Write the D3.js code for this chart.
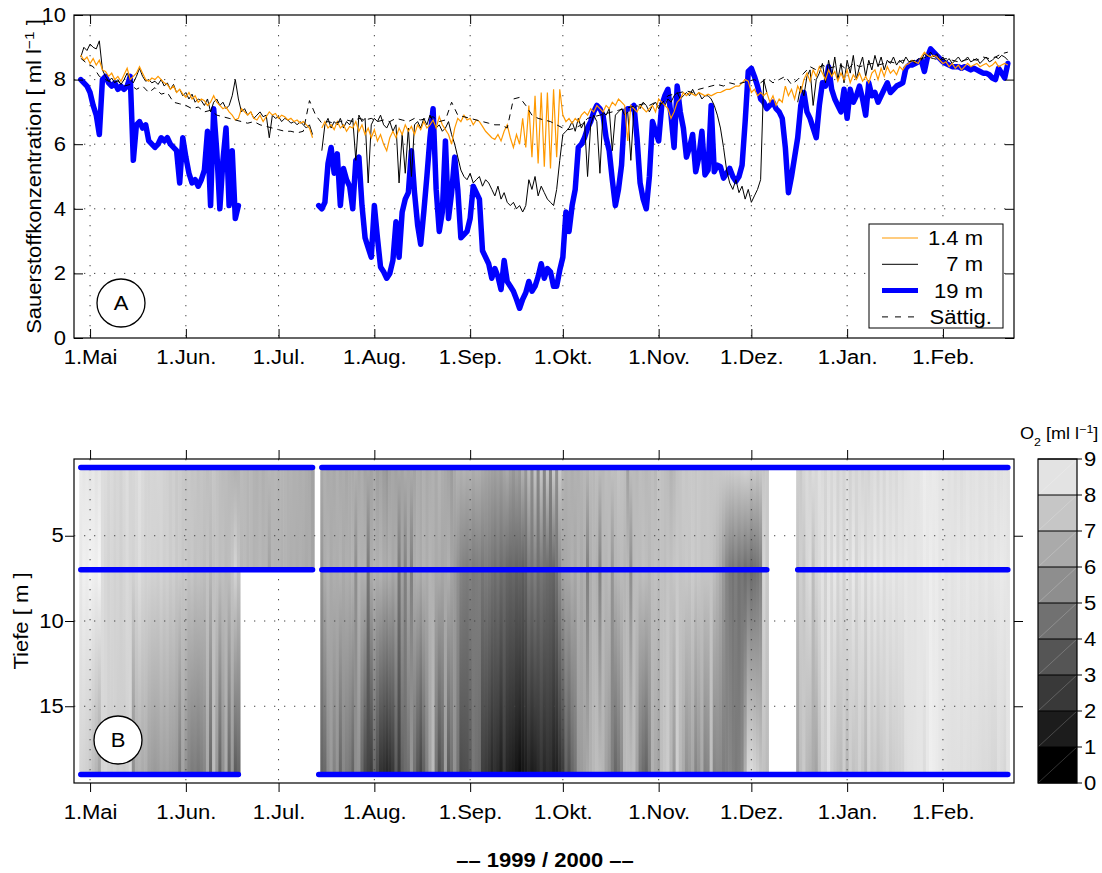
<!DOCTYPE html>
<html>
<head>
<meta charset="utf-8">
<script src="https://cdn.jsdelivr.net/npm/d3@7"></script>
<style>
  body { margin: 0; background: #fff; }
  text { font-family: "Liberation Sans", Arial, Helvetica, sans-serif; fill: #000; }
</style>
</head>
<body>
<svg id="chart" width="1102" height="873"></svg>
<script>
// Daily oxygen series, day 0 = 1 May 1999 (first value is day -3)
const firstDay = -3;

// 1.4 m (surface logger), ml/l
const o2_1m4 = [
  8.76, 8.6, 8.7, 8.5, 8.65, 8.45, 8.6, 8.3, 8.25, 8.1,
  8.2, 8.0, 8.1, 7.95, 8.15, 8.35, 8.0, 8.1, 8.2, 8.4,
  8.2, 8.0, 7.95, 8.05, 8.0, 8.1, 8.0, 7.9, 7.85, 7.7,
  7.8, 7.6, 7.7, 7.55, 7.45, 7.6, 7.4, 7.5, 7.3, 7.4,
  7.35, 7.2, 7.3, 7.5, 7.3, 7.2, 7.1, 7.15, 7.0, 6.9,
  6.75, 6.8, 7.1, 7.0, 6.9, 7.0, 6.8, 6.75, 6.9, 6.7,
  6.85, 7.0, 6.9, 6.95, 6.8, 6.9, 6.85, 6.75, 6.8, 6.7,
  6.75, 6.65, 6.7, 6.6, 6.5, 6.2, null, null, 6.5, 6.7,
  6.5, 6.6, 6.45, 6.7, 6.5, 6.6, 6.4, 6.55, 6.5, 6.7,
  6.4, 6.6, 6.3, 6.5, 6.2, 6.45, 6.1, 6.3, 6.0, 5.8,
  6.2, 6.4, 6.2, 6.5, 6.3, 6.6, 6.4, 6.55, 6.3, 6.6,
  6.45, 6.7, 6.5, 6.6, 6.75, 6.5, 6.85, 6.6, 6.45, 6.3,
  6.0, 6.5, 6.8, 6.7, 6.9, 6.75, 6.8, 6.6, 6.75, 6.7,
  6.55, 6.4, 6.3, 6.2, 6.15, 6.3, 6.1, 6.4, 6.6, 6.2,
  5.9, 6.3, 6.0, 6.8, 5.9, 7.2, 5.6, 7.5, 5.4, 7.6,
  5.3, 7.6, 5.25, 7.7, 5.6, 7.7, 6.9, 6.7, 6.8, 6.65,
  6.8, 6.7, 6.9, 7.0, 6.9, 7.1, 7.0, 7.2, 7.1, 7.0,
  7.2, 7.1, 7.3, 7.2, 7.4, 7.3, 7.2, 6.1, 7.2, 7.1,
  7.0, 7.2, 7.1, 7.0, 7.1, 7.2, 7.0, 7.4, 7.3, 7.2,
  7.1, 6.8, 7.0, 7.3, 7.4, 7.6, 7.5, 7.6, 7.55, 7.5,
  7.6, 7.55, 7.5, 7.55, 7.5, 7.55, 7.6, 7.6, 7.65, 7.7,
  7.7, 7.75, 7.8, 7.8, 7.9, 8.0, 7.95, 7.6, 7.7, 7.5,
  7.6, 7.5, 7.6, 7.3, 7.5, 7.2, 7.4, 7.3, 7.8, 7.5,
  7.7, 7.4, 7.8, 7.6, 8.0, 8.2, 7.95, 8.3, 8.1, 8.4,
  8.2, 8.0, 8.3, 8.1, 8.25, 7.95, 8.2, 8.0, 8.3, 7.9,
  8.15, 8.0, 8.2, 7.95, 8.1, 7.9, 8.2, 8.3, 8.0, 8.35,
  8.1, 8.4, 8.2, 8.3, 8.15, 8.4, 8.3, 8.45, 8.5, 8.6,
  8.55, 8.5, 8.7, 8.85, 8.75, 8.7, 8.75, 8.7, 8.6, 8.5,
  8.55, 8.4, 8.5, 8.35, 8.45, 8.3, 8.4, 8.5, 8.4, 8.45,
  8.5, 8.4, 8.45, 8.5, 8.4, 8.45, 8.55, 8.4, 8.45, 8.5,
  8.45
];

// 7 m
const o2_7m = [
  8.7, 9.0, 8.9, 9.1, 9.0, 8.95, 9.2, 8.3, 8.1, 7.95,
  8.05, 7.9, 8.0, 7.85, 8.0, 8.2, 8.0, 7.9, 8.1, 8.35,
  8.1, 7.95, 8.0, 7.9, 7.95, 7.85, 8.0, 7.8, 7.9, 7.7,
  7.85, 7.6, 7.7, 7.5, 7.6, 7.4, 7.55, 7.3, 7.4, 7.35,
  7.2, 7.4, 7.0, 7.3, 7.4, 7.2, 7.3, 7.1, 7.2, 7.5,
  8.0, 7.4, 7.0, 7.1, 6.9, 7.0, 6.8, 6.9, 7.0, 6.85,
  6.9, 6.2, 6.9, 6.8, 6.85, 6.7, 6.8, 6.75, 6.65, 6.7,
  6.6, 6.7, 6.6, 6.5, 6.6, 6.3, null, null, 5.8, 6.6,
  6.8, 6.5, 6.7, 6.6, 6.8, 6.5, 6.7, 6.6, 6.8, 5.5,
  6.9, 6.7, 6.8, 4.8, 6.6, 6.8, 6.7, 6.9, 6.6, 6.5,
  6.7, 6.4, 6.6, 4.8, 6.3, 5.1, 6.5, 5.0, 6.6, 6.7,
  6.5, 6.8, 6.6, 6.9, 6.7, 6.5, 6.6, 6.4, 6.5, 6.7,
  6.3, 6.0, 5.6, 5.2, 5.0, 4.9, 5.1, 4.8, 4.9, 5.0,
  4.7, 4.9, 4.8, 4.6, 4.4, 4.7, 4.3, 4.5, 4.2, 4.1,
  4.2, 4.0, 4.1, 3.9, 4.1, 4.9, 4.6, 5.0, 4.4, 4.7,
  4.5, 4.3, 4.2, 4.1, 4.6, 5.5, 6.3, 6.4, 6.5, 6.7,
  6.4, 6.8, 6.5, 6.7, 5.0, 6.6, 6.9, 6.7, 5.1, 7.0,
  6.9, 7.1, 5.8, 6.9, 7.0, 7.1, 6.9, 7.0, 5.5, 7.1,
  7.2, 7.1, 7.3, 7.2, 7.0, 7.2, 7.3, 7.1, 7.3, 7.2,
  7.4, 7.3, 7.5, 7.6, 7.4, 7.5, 7.6, 7.5, 7.7, 7.5,
  7.6, 7.4, 7.5, 7.5, 7.4, 7.2, 6.9, 6.5, 5.9, 5.2,
  4.8, 4.6, 4.9, 4.5, 4.7, 4.3, 4.6, 4.2, 4.4, 4.6,
  4.9, 8.0, 7.6, null, null, null, null, null, null, null,
  null, null, 7.3, 7.8, 7.5, 8.1, 8.3, 7.2, 8.0, 8.2,
  8.5, 7.9, 8.6, 8.1, 8.7, 8.0, 8.5, 7.9, 8.6, 8.2,
  8.75, 8.0, 8.4, 8.7, 8.1, 8.6, 8.3, 8.75, 8.4, 8.7,
  8.3, 8.6, 8.5, 8.7, 8.45, 8.6, 8.5, 8.7, 8.55, 8.6,
  8.5, 8.65, 8.6, 8.8, 8.7, 8.85, 8.7, 8.8, 8.6, 8.7,
  8.55, 8.65, 8.5, 8.6, 8.7, 8.55, 8.6, 8.7, 8.55, 8.6,
  8.65, 8.5, 8.6, 8.7, 8.55, 8.6, 8.7, 8.65, 8.75, 8.7,
  8.6
];

// 19 m (near bottom)
const o2_19m = [
  8.0, 7.9, 7.8, 7.6, 7.2, 6.9, 6.3, 8.0, 8.1, 7.9,
  7.8, 7.9, 7.7, 7.8, 7.7, 7.8, 8.1, 5.5, 6.6, 6.7,
  6.5, 6.6, 6.1, 6.0, 5.9, 6.0, 6.2, 6.1, 6.2, 6.0,
  5.9, 5.8, 4.8, 6.2, 5.6, 5.1, 4.8, 4.9, 4.7, 4.9,
  5.2, 6.4, 4.1, 7.1, 5.8, 4.0, 5.5, 6.5, 4.1, 5.8,
  3.7, 4.1, null, null, null, null, null, null, null, null,
  null, null, null, null, null, null, null, null, null, null,
  null, null, null, null, null, null, null, 4.1, 4.0, 4.2,
  5.4, 5.9, 5.1, 5.7, 4.1, 5.25, 4.9, 4.7, 4.0, 5.5,
  5.6, 4.1, 3.1, 2.8, 2.5, 4.1, 3.1, 2.2, 2.05, 1.85,
  2.0, 2.4, 3.6, 2.5, 3.9, 4.3, 4.5, 5.8, 4.5, 3.5,
  2.9, 3.9, 5.0, 6.2, 7.1, 4.6, 3.3, 3.9, 6.1, 3.7,
  4.5, 5.6, 4.6, 3.1, 3.2, 3.3, 3.7, 4.7, 4.5, 4.3,
  2.7, 2.5, 2.3, 1.85, 2.15, 1.9, 1.5, 2.4, 1.75, 1.6,
  1.45, 1.2, 0.92, 1.2, 1.4, 1.75, 1.45, 1.6, 1.9, 2.3,
  1.85, 2.15, 2.05, 1.6, 1.6, 2.1, 2.5, 3.9, 3.3, 4.1,
  4.6, 5.9, 6.0, 6.2, 6.5, 6.7, 7.0, 7.2, 7.1, 6.9,
  6.2, 5.8, 4.9, 4.1, 4.6, 5.35, 7.0, 7.1, 7.1, 7.2,
  6.2, 4.8, 4.3, 4.0, 5.0, 6.7, 6.4, 6.1, 7.2, 7.5,
  7.7, 6.9, 5.9, 7.8, 7.0, 6.5, 5.6, 5.9, 6.3, 5.15,
  5.6, 6.4, 5.05, 5.2, 7.2, 5.15, 5.35, 5.3, 4.95, 5.1,
  5.25, 5.0, 4.85, 5.0, 5.35, 6.7, 8.25, 8.35, 8.1, 7.8,
  7.4, 7.3, 7.1, 7.2, 7.3, 7.1, 7.0, 6.8, 5.9, 4.5,
  5.0, 5.6, 6.2, 7.2, 7.6, 7.0, 6.8, 6.5, 6.2, 7.2,
  7.9, 7.8, 8.4, 7.7, 7.4, 7.2, 7.0, 7.7, 6.8, 7.7,
  7.3, 7.5, 7.8, 7.4, 6.9, 7.9, 7.5, 7.6, 7.3, 7.5,
  7.7, 7.9, 7.6, 7.7, 7.8, 7.85, 7.9, 8.35, 8.45, 8.45,
  8.5, 8.55, 8.6, 8.25, 8.7, 8.95, 8.85, 8.75, 8.65, 8.55,
  8.5, 8.45, 8.4, 8.4, 8.4, 8.35, 8.4, 8.35, 8.3, 8.35,
  8.3, 8.25, 8.2, 8.2, 8.15, 8.05, 8.0, 8.35, 8.2, 8.05,
  8.5
];

// Saturation concentration, every second day from day -3
const satFirstDay = -3;
const satStep = 2;
const o2_sat = [
  8.66, 8.5, 8.4, 8.1, 8.0, 7.9, 7.95, 7.8, 7.85, 7.7,
  7.8, 7.6, 7.75, 7.55, 7.6, 7.3, 7.25, 7.2, 7.1, 7.15,
  7.0, 7.05, 6.9, 6.85, 6.8, 6.75, 6.7, 6.65, 6.7, 6.6,
  6.55, 6.5, 6.45, 6.4, 6.4, 6.35, 6.4, 7.35, 6.9, 6.65,
  6.7, 6.65, 6.7, 6.75, 6.7, 6.8, 6.75, 6.8, 6.7, 6.75,
  6.7, 6.8, 6.75, 6.7, 6.8, 6.75, 6.8, 6.85, 6.7, 6.75,
  7.3, 6.9, 6.85, 6.8, 6.75, 6.7, 6.65, 6.6, 6.6, 6.5,
  7.4, 7.45, 7.2, 6.9, 6.8, 6.75, 6.7, 6.6, 6.5, 6.45,
  6.5, 6.6, 6.8, 6.85, 6.9, 6.95, 7.0, 7.05, 7.1, 7.15,
  7.2, 7.25, 7.2, 7.3, 7.25, 7.5, 7.55, 7.6, 7.65, 7.6,
  7.7, 7.75, 7.8, 7.85, 7.8, 7.9, 7.85, 7.9, 7.95, 8.0,
  7.9, 8.05, 7.9, 8.0, 8.1, 7.85, 8.0, 8.2, 8.4, 8.3,
  8.45, 8.35, 8.4, 8.45, 8.3, 8.5, 8.4, 8.45, 8.5, 8.45,
  8.5, 8.55, 8.5, 8.6, 8.55, 8.6, 8.65, 8.7, 8.65, 8.6,
  8.65, 8.6, 8.55, 8.6, 8.65, 8.6, 8.7, 8.65, 8.7, 8.8,
  8.85
];

// Axis ticks
const monthDays   = [0, 31, 61, 92, 123, 153, 184, 214, 245, 276];
const monthLabels = ["1.Mai", "1.Jun.", "1.Jul.", "1.Aug.", "1.Sep.", "1.Okt.", "1.Nov.", "1.Dez.", "1.Jan.", "1.Feb."];
const concTicks   = [0, 2, 4, 6, 8, 10];
const depthTicks  = [5, 10, 15];
const rowDepths   = [1, 7, 19];          // depth rows of the loggers in panel B
const legendLabels = ["1.4 m", "7 m", "19 m", "Sättig."];
const levelTicks  = [0, 1, 2, 3, 4, 5, 6, 7, 8, 9];

// ---------------------------------------------------------------
const svg = d3.select("#chart");
const FS = 19.5;     // font size
const SX = 1.13;     // horizontal glyph stretch

const L = 74, R = 1014;
const A_T = 15, A_B = 338;
const B_T = 459, B_B = 783;

const x  = d3.scaleLinear().domain([-5.2, 299]).range([L, R]);
const yA = d3.scaleLinear().domain([0, 10]).range([A_B, A_T]);
const yB = d3.scaleLinear().domain([0.5, 19.5]).range([B_T, B_B]);
const yC = d3.scaleLinear().domain([0, 9]).range([B_B, B_T]);
const gray = d3.scaleLinear().domain([0.5, 9.5]).range(["#000000", "#ffffff"]).clamp(true);

const toPts = (arr, start, step) => arr.map((v, i) => ({ d: start + i * step, v }));
const p1  = toPts(o2_1m4, firstDay, 1);
const p7  = toPts(o2_7m, firstDay, 1);
const p19 = toPts(o2_19m, firstDay, 1);
const pS  = toPts(o2_sat, satFirstDay, satStep);

// text placed at (px, py), optionally rotated, stretched horizontally
function label(parent, px, py, str, opts = {}) {
  const rot = opts.rotate ? ` rotate(${opts.rotate})` : "";
  const t = parent.append("text")
    .attr("transform", `translate(${px},${py})${rot} scale(${SX},1)`)
    .attr("text-anchor", opts.anchor || "start")
    .attr("font-size", opts.size || FS);
  if (opts.dy) t.attr("dy", opts.dy);
  if (opts.bold) t.attr("font-weight", "bold");
  if (str != null) t.text(str);
  return t;
}

const defs = svg.append("defs");
defs.append("clipPath").attr("id", "clipA").append("rect")
  .attr("x", L).attr("y", A_T).attr("width", R - L).attr("height", A_B - A_T);
defs.append("clipPath").attr("id", "clipB").append("rect")
  .attr("x", L).attr("y", B_T).attr("width", R - L).attr("height", B_B - B_T);

function dottedGrid(g, top, bottom, yScale, yVals) {
  g.selectAll(null).data(monthDays).join("line")
    .attr("x1", d => x(d)).attr("x2", d => x(d))
    .attr("y1", top).attr("y2", bottom)
    .attr("stroke", "#444").attr("stroke-width", 1).attr("stroke-dasharray", "1.3,8.7");
  g.selectAll(null).data(yVals).join("line")
    .attr("x1", L).attr("x2", R)
    .attr("y1", d => yScale(d)).attr("y2", d => yScale(d))
    .attr("stroke", "#444").attr("stroke-width", 1).attr("stroke-dasharray", "1.3,8.7");
}

function styleAxis(g, showText) {
  g.select(".domain").remove();
  g.selectAll(".tick line").attr("stroke", "#000").attr("stroke-width", 1);
  g.selectAll(".tick text").attr("font-size", FS).attr("font-family", "Liberation Sans, Arial, sans-serif")
    .attr("fill", "#000").attr("transform", `scale(${SX},1)`);
  if (!showText) g.selectAll(".tick text").remove();
}

// ======================= Panel A =======================
const gA = svg.append("g");
dottedGrid(gA, A_T, A_B, yA, [2, 4, 6, 8]);

const lineA = d3.line().defined(p => p.v != null).x(p => x(p.d)).y(p => yA(p.v));
const plotA = gA.append("g").attr("clip-path", "url(#clipA)");

plotA.append("path").datum(p19).attr("d", lineA)
  .attr("fill", "none").attr("stroke", "#0000ff").attr("stroke-width", 5.5)
  .attr("stroke-linejoin", "round").attr("stroke-linecap", "round");
plotA.append("path").datum(p7).attr("d", lineA)
  .attr("fill", "none").attr("stroke", "#000").attr("stroke-width", 1);
plotA.append("path").datum(p1).attr("d", lineA)
  .attr("fill", "none").attr("stroke", "#ff9900").attr("stroke-width", 1.2);
plotA.append("path").datum(pS).attr("d", lineA)
  .attr("fill", "none").attr("stroke", "#000").attr("stroke-width", 1)
  .attr("stroke-dasharray", "6,5");

gA.append("rect").attr("x", L).attr("y", A_T).attr("width", R - L).attr("height", A_B - A_T)
  .attr("fill", "none").attr("stroke", "#000").attr("stroke-width", 1.2);

gA.append("g").attr("transform", `translate(0,${A_B})`)
  .call(d3.axisBottom(x).tickValues(monthDays).tickFormat((d, i) => monthLabels[i]).tickSizeInner(-9).tickSizeOuter(0).tickPadding(12))
  .call(g => styleAxis(g, true));
gA.append("g").attr("transform", `translate(0,${A_T})`)
  .call(d3.axisTop(x).tickValues(monthDays).tickSizeInner(-9).tickSizeOuter(0))
  .call(g => styleAxis(g, false));
gA.append("g").attr("transform", `translate(${L},0)`)
  .call(d3.axisLeft(yA).tickValues(concTicks).tickFormat(d3.format("d")).tickSizeInner(-9).tickSizeOuter(0).tickPadding(7))
  .call(g => styleAxis(g, true));
gA.append("g").attr("transform", `translate(${R},0)`)
  .call(d3.axisRight(yA).tickValues(concTicks).tickSizeInner(-9).tickSizeOuter(0))
  .call(g => styleAxis(g, false));

// y label A
const yLabA = label(gA, 41, (A_T + A_B) / 2, null, { rotate: -90, anchor: "middle" });
yLabA.append("tspan").text("Sauerstoffkonzentration [ ml l");
yLabA.append("tspan").attr("baseline-shift", "super").attr("font-size", FS * 0.7).text("\u22121");
yLabA.append("tspan").text(" ]");

// label circle A
gA.append("circle").attr("cx", 121).attr("cy", 303).attr("r", 24)
  .attr("fill", "#fff").attr("stroke", "#000").attr("stroke-width", 1.3);
label(gA, 121, 303, "A", { anchor: "middle", dy: "0.36em" });

// legend
const lg = gA.append("g");
lg.append("rect").attr("x", 869).attr("y", 224).attr("width", 134).attr("height", 104)
  .attr("fill", "#fff").attr("stroke", "#000").attr("stroke-width", 1);
const legStyles = [
  { c: "#ff9900", w: 1.2, dash: null },
  { c: "#000", w: 1, dash: null },
  { c: "#0000ff", w: 5, dash: null },
  { c: "#000", w: 1, dash: "6,7" }
];
legendLabels.forEach((lab, i) => {
  const yy = 238 + i * 26.3;
  const s = legStyles[i];
  const ln = lg.append("line").attr("x1", 882).attr("x2", 918).attr("y1", yy).attr("y2", yy)
    .attr("stroke", s.c).attr("stroke-width", s.w);
  if (s.dash) ln.attr("stroke-dasharray", s.dash);
  label(lg, i === 3 ? 992 : 983, yy, lab, { anchor: "end", dy: "0.36em" });
});

// ======================= Panel B =======================
const gB = svg.append("g");
const shade = gB.append("g").attr("clip-path", "url(#clipB)");

const layers = [
  { top: o2_1m4, bot: o2_7m, d0: rowDepths[0], d1: rowDepths[1] },
  { top: o2_7m, bot: o2_19m, d0: rowDepths[1], d1: rowDepths[2] }
];
layers.forEach((ly, k) => {
  ly.top.forEach((vt, i) => {
    const vb = ly.bot[i];
    if (vt == null || vb == null) return;
    const day = firstDay + i;
    const id = `grad${k}_${i}`;
    const gr = defs.append("linearGradient").attr("id", id)
      .attr("x1", 0).attr("y1", 0).attr("x2", 0).attr("y2", 1);
    gr.append("stop").attr("offset", 0).attr("stop-color", gray(vt));
    gr.append("stop").attr("offset", 1).attr("stop-color", gray(vb));
    shade.append("rect")
      .attr("x", x(day - 0.5)).attr("width", x(day + 0.5) - x(day - 0.5) + 0.6)
      .attr("y", yB(ly.d0)).attr("height", yB(ly.d1) - yB(ly.d0) + 0.4)
      .attr("fill", `url(#${id})`);
  });
});

dottedGrid(gB, B_T, B_B, yB, depthTicks);

// logger rows (data availability)
const rowSeries = [p1, p7, p19];
rowSeries.forEach((ser, k) => {
  const dep = rowDepths[k];
  const rowLine = d3.line().defined(p => p.v != null).x(p => x(p.d)).y(() => yB(dep));
  gB.append("path").datum(ser).attr("d", rowLine)
    .attr("fill", "none").attr("stroke", "#0000ff").attr("stroke-width", 5.5)
    .attr("stroke-linecap", "round");
});

gB.append("rect").attr("x", L).attr("y", B_T).attr("width", R - L).attr("height", B_B - B_T)
  .attr("fill", "none").attr("stroke", "#000").attr("stroke-width", 1.2);

gB.append("g").attr("transform", `translate(0,${B_B})`)
  .call(d3.axisBottom(x).tickValues(monthDays).tickFormat((d, i) => monthLabels[i]).tickSizeInner(9).tickSizeOuter(0).tickPadding(13))
  .call(g => styleAxis(g, true));
gB.append("g").attr("transform", `translate(0,${B_T})`)
  .call(d3.axisTop(x).tickValues(monthDays).tickSizeInner(9).tickSizeOuter(0))
  .call(g => styleAxis(g, false));
gB.append("g").attr("transform", `translate(${L},0)`)
  .call(d3.axisLeft(yB).tickValues(depthTicks).tickFormat(d3.format("d")).tickSizeInner(9).tickSizeOuter(0).tickPadding(0))
  .call(g => styleAxis(g, true));
gB.append("g").attr("transform", `translate(${R},0)`)
  .call(d3.axisRight(yB).tickValues(depthTicks).tickSizeInner(9).tickSizeOuter(0))
  .call(g => styleAxis(g, false));

label(gB, 28, yB(10), "Tiefe [ m ]", { rotate: -90, anchor: "middle" });

gB.append("circle").attr("cx", 118).attr("cy", 740).attr("r", 24)
  .attr("fill", "#fff").attr("stroke", "#000").attr("stroke-width", 1.3);
label(gB, 118, 740, "B", { anchor: "middle", dy: "0.36em" });

// ======================= Colour bar =======================
const CB_L = 1038, CB_R = 1077;
const cb = svg.append("g");
const bands = levelTicks.slice(0, -1);
cb.selectAll(null).data(bands).join("rect")
  .attr("x", CB_L).attr("width", CB_R - CB_L)
  .attr("y", d => yC(d + 1)).attr("height", d => yC(d) - yC(d + 1))
  .attr("fill", d => gray(d + 0.5));
cb.selectAll(null).data(bands).join("line")
  .attr("x1", CB_L).attr("x2", CB_R)
  .attr("y1", d => yC(d)).attr("y2", d => yC(d + 1))
  .attr("stroke", "#fff").attr("stroke-opacity", 0.25).attr("stroke-width", 0.8);
cb.selectAll(null).data(levelTicks).join("line")
  .attr("x1", CB_L).attr("x2", CB_R + 5)
  .attr("y1", d => yC(d)).attr("y2", d => yC(d))
  .attr("stroke", "#000").attr("stroke-width", 1);
cb.append("rect").attr("x", CB_L).attr("y", B_T).attr("width", CB_R - CB_L).attr("height", B_B - B_T)
  .attr("fill", "none").attr("stroke", "#000").attr("stroke-width", 1.2);
levelTicks.forEach(d => label(cb, CB_R + 7, yC(d), String(d), { dy: "0.36em" }));

const cbt = label(cb, 1020, 439, null, { size: 16 });
cbt.append("tspan").text("O");
cbt.append("tspan").attr("baseline-shift", "sub").attr("font-size", 11).text("2");
cbt.append("tspan").text(" [ml l");
cbt.append("tspan").attr("baseline-shift", "super").attr("font-size", 11).text("\u22121");
cbt.append("tspan").text("]");

// season caption
label(svg, 545, 867, "\u2013\u2013 1999 / 2000 \u2013\u2013", { anchor: "middle", bold: true });
</script>
</body>
</html>
